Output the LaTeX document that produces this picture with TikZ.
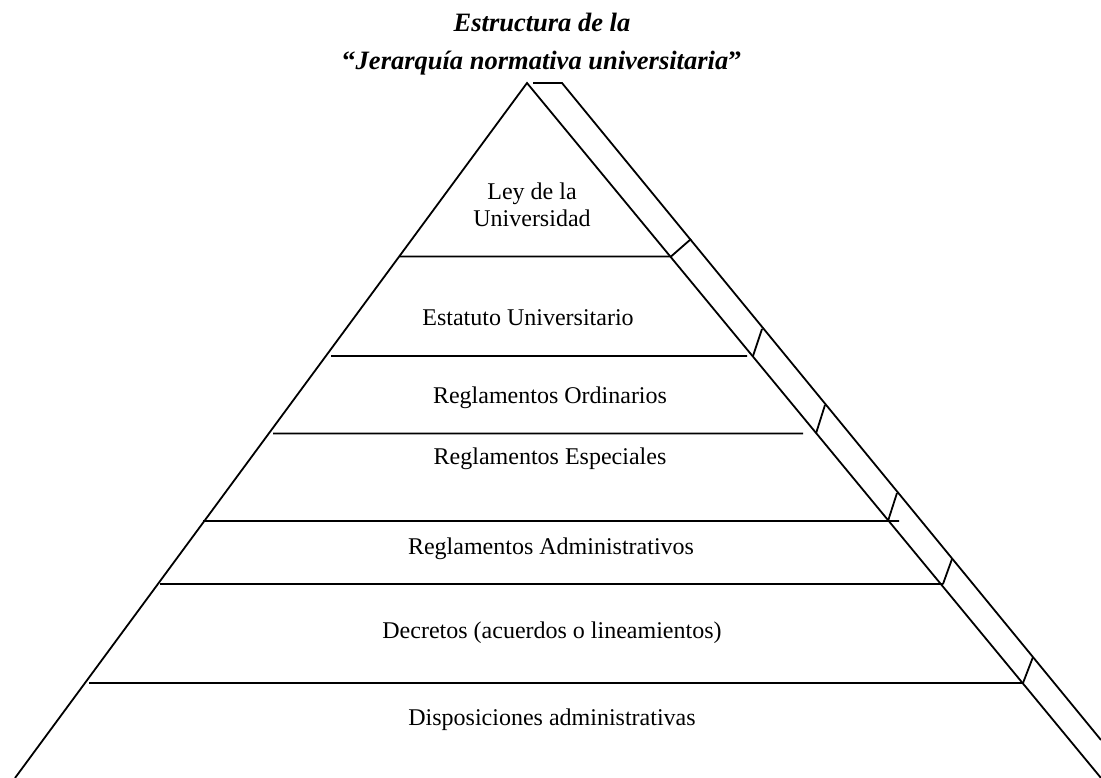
\documentclass[tikz,border=0pt]{standalone}
\usepackage{fontspec}
\setmainfont{Liberation Serif}
\usetikzlibrary{positioning,calc}

\tikzset{
    edge/.style={line width=1.8pt},
    levellabel/.style={font=\fontsize{24}{27}\selectfont, align=center, inner sep=0pt},
    titlelabel/.style={font=\fontsize{26.5}{38}\selectfont\bfseries, align=center, inner sep=0pt}
}

\begin{document}
\begin{tikzpicture}[x=1pt, y=-1pt]
    \useasboundingbox (0,0) rectangle (1101,778);

    % Title
    \node[titlelabel] (title) at (542,44) {\textit{Estructura de la}\\“\textit{Jerarquía normativa universitaria}”};

    % Pyramid outline
    \coordinate (apex) at (527,83);
    \coordinate (baseL) at (15,778);
    \coordinate (baseR) at (1101,778);
    \coordinate (sideS) at (533,83);
    \coordinate (sideT) at (562,83);
    \coordinate (sideB) at (1101,740);
    \draw[edge] (baseL) -- (apex) -- (baseR);
    \draw[edge] (sideS) -- (sideT) -- (sideB);

    % Levels and side ticks
    \foreach \y/\xl/\xr/\xb/\xt/\yt in {256.5/400/671/671/691/239, 356/331/747/753/762/329, 433.5/273/803/816/825/405, 521/203/899/888/897/493, 584/160/943/943/952/559, 683/89/1023/1023/1033/657}
        \draw[edge] (\xl,\y) -- (\xr,\y) (\xb,\y) -- (\xt,\yt);

    % Labels
    \node[levellabel] (ley) at (532,205) {Ley de la\\Universidad};
    \node[levellabel] (estatuto) at (528,318) {Estatuto Universitario};
    \node[levellabel] (ordinarios) at (550,398) {Reglamentos Ordinarios};
    \node[levellabel] (especiales) at (550,459) {Reglamentos Especiales};
    \node[levellabel] (administrativos) at (551,549) {Reglamentos Administrativos};
    \node[levellabel] (decretos) at (552,633) {Decretos (acuerdos o lineamientos)};
    \node[levellabel] (disposiciones) at (552,720) {Disposiciones administrativas};
\end{tikzpicture}
\end{document}
